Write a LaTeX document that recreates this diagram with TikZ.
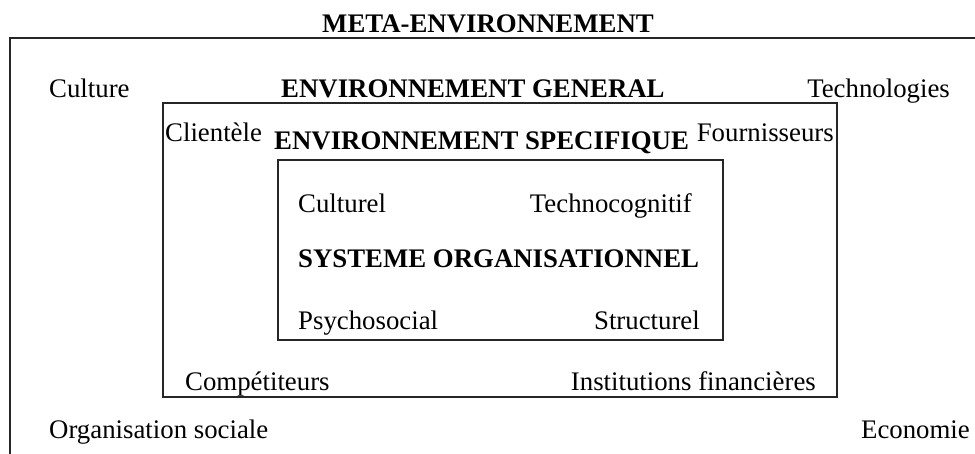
\documentclass[tikz,border=0pt]{standalone}
\usepackage{fontspec}
\setmainfont{Liberation Serif}
\begin{document}
\begin{tikzpicture}[x=1pt,y=-1pt,
  lbl/.style={inner sep=0pt,font=\fontsize{26.8}{30}\selectfont},
  bl/.style={lbl,font=\fontsize{26.8}{30}\selectfont\bfseries},
  frame/.style={draw=black!85,line width=1.3pt}]
\useasboundingbox (0,0) rectangle (975,454);
% outer (meta) frame: top and left only
\coordinate (mtl) at (10,38);
\coordinate (mtr) at (975,38);
\coordinate (mbl) at (10,454);
\draw[frame] (mtr) -- (mtl) -- (mbl);
% general environment frame
\draw[frame] (163,103) rectangle (837,397);
% organisational system frame
\draw[frame] (278,160) rectangle (723,340);
% texts
\node[bl,anchor=base] (meta) at (488,33) {META-ENVIRONNEMENT};
\node[lbl,anchor=base west] (culture) at (49,98) {Culture};
\node[bl,anchor=base west] (gen) at (281,98) {ENVIRONNEMENT GENERAL};
\node[lbl,anchor=base east] (techno) at (950,98) {Technologies};
\node[lbl,anchor=base west] (client) at (165,142) {Clientèle};
\node[bl,anchor=base west] (spec) at (274,150) {ENVIRONNEMENT SPECIFIQUE};
\node[lbl,anchor=base east] (fourn) at (834,142) {Fournisseurs};
\node[lbl,anchor=base west] (culturel) at (298,213) {Culturel};
\node[lbl,anchor=base east] (tcog) at (692,213) {Technocognitif};
\node[bl,anchor=base west] (sys) at (298,268) {SYSTEME ORGANISATIONNEL};
\node[lbl,anchor=base west] (psy) at (298,330) {Psychosocial};
\node[lbl,anchor=base east] (struct) at (700,330) {Structurel};
\node[lbl,anchor=base west] (comp) at (185,390) {Compétiteurs};
\node[lbl,anchor=base east] (inst) at (816,390) {Institutions financières};
\node[lbl,anchor=base west] (orga) at (49,438) {Organisation sociale};
\node[lbl,anchor=base east] (eco) at (970,438) {Economie};
\end{tikzpicture}
\end{document}
